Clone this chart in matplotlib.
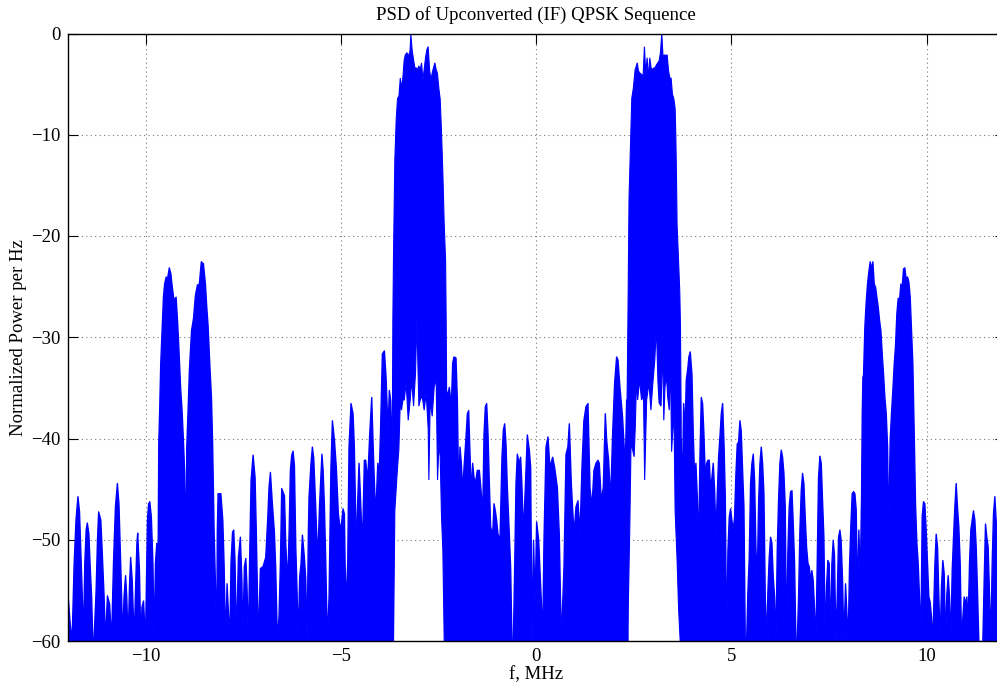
import numpy as np
import matplotlib
matplotlib.use("Agg")
import matplotlib.pyplot as plt

# ---------------- data (MHz, dB) ----------------
neg_side_f = [-12.0, -11.95, -11.90, -11.85, -11.80, -11.75, -11.71, -11.68, -11.64, -11.61,
              -11.575, -11.54, -11.51, -11.47, -11.44, -11.40, -11.37, -11.34, -11.285, -11.25,
              -11.22, -11.165, -11.13, -11.08, -11.045, -10.995, -10.94, -10.89, -10.84, -10.79,
              -10.74, -10.70, -10.65, -10.60, -10.57, -10.53, -10.50, -10.465, -10.43, -10.40,
              -10.36, -10.31, -10.28, -10.24, -10.22, -10.175, -10.14, -10.11, -10.07, -10.02,
              -9.97, -9.94, -9.91, -9.87, -9.83, -9.80, -9.765, -9.73, -9.70,
              -9.68, -9.655, -9.63, -9.595, -9.56, -9.53, -9.49, -9.46, -9.41, -9.37,
              -9.34, -9.29, -9.236, -9.20, -9.17, -9.12, -9.083, -9.05, -9.015, -9.00, -8.98,
              -8.963, -8.93, -8.895, -8.84, -8.79, -8.74, -8.69, -8.64, -8.59, -8.536,
              -8.485, -8.45, -8.417, -8.366, -8.33, -8.30, -8.263, -8.23, -8.195, -8.18,
              -8.16, -8.09, -8.04, -8.007, -7.97, -7.93, -7.86, -7.83, -7.79, -7.76,
              -7.725, -7.69, -7.64, -7.59, -7.55, -7.53, -7.486, -7.45, -7.42, -7.384,
              -7.35, -7.315, -7.264, -7.213, -7.18, -7.13, -7.076, -7.008, -6.94, -6.89,
              -6.854, -6.82, -6.77, -6.718, -6.684, -6.64, -6.60, -6.564, -6.53, -6.46,
              -6.428, -6.376, -6.34, -6.308, -6.274, -6.24, -6.205, -6.17, -6.137, -6.11,
              -6.07, -6.035, -6.00, -5.95, -5.915, -5.88, -5.847, -5.83, -5.78, -5.745,
              -5.71, -5.66, -5.61, -5.56, -5.50, -5.47, -5.437, -5.403, -5.36, -5.318,
              -5.27, -5.232, -5.18, -5.13, -5.08, -5.028, -4.994, -4.96, -4.925, -4.89,
              -4.84, -4.806, -4.755, -4.703, -4.67, -4.618, -4.584, -4.55, -4.516, -4.464,
              -4.413, -4.38, -4.327, -4.276, -4.225, -4.174, -4.123, -4.07, -4.037, -4.003,
              -3.952, -3.90, -3.858, -3.807, -3.773, -3.74, -3.704, -3.675]
neg_side_db = [-55.6, -58.2, -60, -52.6, -48.0, -45.7, -47.2, -50.7, -55.3, -60,
               -52.3, -49.0, -48.3, -49.4, -52.3, -55.6, -60, -60, -55.0, -50.0,
               -47.2, -48.0, -51.0, -55.6, -60, -55.5, -56.3, -60, -52.3, -46.7,
               -44.4, -46.4, -53.0, -60, -55.6, -53.5, -55.6, -60, -54.6, -51.7,
               -54.0, -60, -55.6, -50.3, -49.3, -53.0, -60, -56.6, -56.0, -60,
               -48.0, -46.4, -46.2, -47.7, -52.3, -60, -52.3, -50.3, -54.0,
               -40.5, -36.9, -32.6, -29.3, -26.0, -24.7, -24.0, -24.3, -23.1, -23.7,
               -24.8, -26.3, -26.0, -28.3, -30.6, -35.0, -37.2, -40.0, -43.4, -46.4, -54.3,
               -40.8, -37.3, -33.2, -29.3, -28.1, -25.8, -24.8, -24.7, -22.5, -22.7,
               -24.7, -27.0, -28.8, -33.2, -35.9, -40.5, -49.0, -54.0, -60, -49.0,
               -45.4, -45.4, -48.0, -52.3, -60, -54.3, -60, -52.3, -49.2, -49.0,
               -52.3, -60, -51.7, -49.7, -54.0, -60, -52.6, -51.8, -54.6, -60,
               -51.3, -44.1, -41.6, -43.8, -49.4, -60, -52.8, -52.6, -51.7, -48.0,
               -44.7, -43.3, -46.4, -49.2, -52.8, -60, -57.6, -52.3, -44.9, -45.6,
               -50.3, -54.3, -49.0, -43.1, -41.6, -41.2, -42.6, -50.7, -55.0, -60,
               -53.6, -52.3, -49.5, -51.7, -53.8, -60, -49.0, -45.7, -42.4, -40.8,
               -41.9, -46.7, -52.0, -46.4, -41.5, -43.1, -46.6, -52.0, -60, -55.6,
               -42.9, -38.2, -40.1, -42.9, -47.4, -49.0, -48.2, -46.9, -47.4, -56.6,
               -52.3, -40.8, -36.5, -37.5, -40.8, -51.0, -46.1, -42.4, -45.4, -50.7,
               -42.1, -42.1, -44.1, -39.5, -35.9, -42.4, -47.7, -42.4, -43.8, -39.8,
               -31.6, -31.3, -33.9, -39.1, -35.2, -36.2, -40.1, -45.0]

left_main_f_upper = [-3.685, -3.67, -3.653, -3.62, -3.585, -3.55, -3.515, -3.48, -3.45, -3.415,
                     -3.38, -3.35, -3.31, -3.26, -3.23, -3.21, -3.175, -3.14, -3.107, -3.07,
                     -3.04, -3.005, -2.97, -2.936, -2.90, -2.87, -2.834, -2.80, -2.766, -2.73,
                     -2.697, -2.663, -2.63, -2.595, -2.56, -2.53, -2.49, -2.458, -2.424, -2.39,
                     -2.356, -2.32, -2.305, -2.295]
left_main_db_upper = [-40.0, -28.0, -21.7, -12.5, -8.5, -6.4, -6.2, -4.4, -5.4, -4.4,
                      -2.6, -2.1, -1.9, -2.2, -1.7, -0.1, -1.7, -2.6, -3.4, -3.4,
                      -3.6, -3.2, -3.6, -2.9, -4.6, -3.6, -2.4, -1.6, -1.3, -3.6,
                      -4.6, -3.9, -3.4, -2.9, -3.6, -3.9, -5.5, -6.5, -9.8, -13.8,
                      -18.8, -22.4, -28.3, -34.0]
left_main_f_lower = [-3.685, -3.653, -3.62, -3.55, -3.517, -3.48, -3.45, -3.414, -3.38, -3.33,
                     -3.277, -3.226, -3.192, -3.14, -3.09, -3.056, -3.004, -2.97, -2.92, -2.868,
                     -2.817, -2.765, -2.748, -2.714, -2.663, -2.612, -2.56, -2.526, -2.49, -2.458,
                     -2.424, -2.39, -2.355, -2.295]
left_main_db_lower = [-60, -60, -47.1, -42.8, -41.1, -36.2, -37.2, -36.2, -36.2, -34.5,
                      -38.2, -36.2, -34.2, -36.8, -33.5, -28.3, -36.8, -36.2, -35.8, -37.2,
                      -35.5, -39.1, -44.1, -36.2, -37.8, -34.9, -34.2, -44.1, -40.5, -41.8,
                      -47.7, -51.0, -60, -60]

center_f = [-2.32, -2.287, -2.236, -2.185, -2.151, -2.117, -2.066, -2.031, -1.997, -1.963,
            -1.929, -1.895, -1.86, -1.809, -1.775, -1.741, -1.707, -1.673, -1.639, -1.605,
            -1.57, -1.52, -1.468, -1.417, -1.383, -1.348, -1.314, -1.28, -1.246, -1.212,
            -1.178, -1.126, -1.092, -1.058, -1.024, -0.99, -0.939, -0.888, -0.853, -0.819,
            -0.785, -0.751, -0.70, -0.666, -0.632, -0.597, -0.563, -0.529, -0.495, -0.444,
            -0.41, -0.375, -0.341, -0.29, -0.239, -0.188, -0.153, -0.12, -0.08, -0.04,
            0.0, 0.052, 0.12, 0.154, 0.188, 0.24, 0.29, 0.34, 0.41, 0.46,
            0.53, 0.58, 0.632, 0.70, 0.752, 0.80, 0.837, 0.888, 0.956, 1.008,
            1.058, 1.11, 1.161, 1.21, 1.264, 1.315, 1.366, 1.417, 1.468, 1.52,
            1.571, 1.605, 1.656, 1.707, 1.759, 1.793, 1.844, 1.895, 1.946, 1.997,
            2.049, 2.083, 2.134, 2.20, 2.27, 2.305, 2.34]
center_db = [-35.0, -35.8, -34.9, -36.8, -32.5, -31.9, -32.0, -36.2, -45.4, -40.8,
             -42.4, -45.1, -42.8, -39.8, -37.5, -37.2, -41.5, -45.4, -42.4, -43.8,
             -44.4, -43.1, -43.1, -45.4, -47.7, -39.5, -36.8, -36.5, -39.5, -44.4,
             -48.7, -49.4, -46.4, -47.1, -48.1, -49.4, -50.0, -41.8, -39.1, -38.5,
             -40.5, -44.8, -49.4, -52.7, -60, -60, -52.7, -44.4, -41.5, -42.4,
             -41.8, -44.8, -49.4, -44.8, -39.6, -41.1, -42.8, -60, -50.0, -56.0,
             -48.2, -50.0, -56.0, -60, -50.0, -40.8, -39.8, -42.8, -41.8, -42.8,
             -44.8, -49.4, -60, -52.7, -41.5, -40.8, -38.5, -44.4, -49.4, -46.7,
             -46.1, -49.4, -42.8, -38.2, -36.8, -36.5, -44.8, -46.7, -43.1, -42.4,
             -42.1, -42.4, -46.1, -44.8, -37.5, -40.1, -42.1, -46.1, -39.5, -34.5,
             -31.9, -32.2, -34.9, -37.8, -42.8, -36.2, -36.0]

right_main_f_upper = [2.33, 2.35, 2.365, 2.38, 2.42, 2.45, 2.49, 2.535, 2.59, 2.621,
                      2.655, 2.706, 2.74, 2.774, 2.808, 2.843, 2.877, 2.91, 2.945, 2.979,
                      3.013, 3.047, 3.081, 3.116, 3.15, 3.184, 3.218, 3.252, 3.286, 3.32,
                      3.355, 3.389, 3.423, 3.457, 3.491, 3.525, 3.56, 3.577, 3.594, 3.61,
                      3.645, 3.679, 3.696, 3.715]
right_main_db_upper = [-36.0, -28.8, -22.2, -16.2, -10.6, -6.4, -5.4, -3.6, -2.9, -3.7,
                       -3.9, -4.05, -4.2, -1.3, -4.0, -2.4, -4.4, -2.4, -3.4, -3.56,
                       -3.4, -3.4, -3.1, -2.9, -2.7, -1.9, 0.0, -2.4, -2.1, -2.2,
                       -2.1, -3.6, -4.4, -4.4, -6.0, -6.4, -7.4, -10.0, -13.9, -18.9,
                       -22.2, -25.5, -28.8, -38.0]
right_main_f_lower = [2.33, 2.365, 2.40, 2.43, 2.47, 2.51, 2.54, 2.57, 2.60, 2.65,
                      2.70, 2.75, 2.78, 2.83, 2.89, 2.94, 2.99, 3.04, 3.08, 3.12,
                      3.15, 3.20, 3.24, 3.27, 3.30, 3.34, 3.37, 3.41, 3.44, 3.47,
                      3.53, 3.56, 3.61, 3.65, 3.69, 3.715]
right_main_db_lower = [-60, -55.6, -48.4, -40.5, -41.1, -41.8, -38.8, -34.2, -36.2, -34.2,
                       -36.2, -35.8, -44.1, -36.2, -34.5, -37.2, -34.5, -32.2, -28.9, -34.4,
                       -36.5, -36.8, -30.9, -38.2, -34.9, -33.9, -35.9, -37.2, -32.0, -41.3,
                       -37.2, -47.1, -52.0, -56.9, -60, -60]

pos_side_f = [3.70, 3.73, 3.765, 3.80, 3.833, 3.867, 3.90, 3.935, 3.978, 4.012,
              4.046, 4.08, 4.115, 4.149, 4.183, 4.217, 4.251, 4.285, 4.32, 4.354,
              4.388, 4.422, 4.456, 4.49, 4.524, 4.559, 4.593, 4.627, 4.661, 4.695,
              4.73, 4.764, 4.80, 4.832, 4.866, 4.90, 4.934, 4.968, 5.00, 5.037,
              5.07, 5.105, 5.139, 5.173, 5.207, 5.24, 5.276, 5.31, 5.344, 5.378,
              5.412, 5.446, 5.48, 5.515, 5.549, 5.583, 5.617, 5.651, 5.685, 5.72,
              5.754, 5.788, 5.822, 5.856, 5.89, 5.924, 5.958, 5.993, 6.027, 6.06,
              6.095, 6.13, 6.163, 6.197, 6.232, 6.266, 6.30, 6.334, 6.368, 6.40,
              6.436, 6.47, 6.505, 6.54, 6.573, 6.607, 6.641, 6.675, 6.71, 6.744,
              6.778, 6.812, 6.846, 6.88, 6.915, 6.95, 6.983, 7.017, 7.05, 7.085,
              7.12, 7.153, 7.187, 7.22, 7.256, 7.29, 7.324, 7.358, 7.392, 7.426,
              7.46, 7.495, 7.53, 7.563, 7.597, 7.63, 7.665, 7.70, 7.734, 7.768,
              7.80, 7.836, 7.87, 7.913, 7.98, 8.015, 8.05, 8.084, 8.118, 8.152,
              8.186, 8.22, 8.254, 8.289, 8.323, 8.34, 8.357, 8.374, 8.408, 8.442,
              8.476, 8.51, 8.545, 8.579, 8.613, 8.647, 8.681, 8.715, 8.75, 8.784,
              8.818, 8.852, 8.886, 8.92, 8.955, 8.99, 9.006, 9.023, 9.04, 9.057,
              9.09, 9.125, 9.16, 9.193, 9.228, 9.262, 9.296, 9.33, 9.364, 9.398,
              9.432, 9.467, 9.50, 9.535, 9.569, 9.603, 9.637, 9.671, 9.705, 9.74,
              9.774, 9.808, 9.842, 9.876, 9.91, 9.944, 9.978, 10.013, 10.047, 10.08,
              10.115, 10.15, 10.20, 10.235, 10.27, 10.303, 10.337, 10.37, 10.405, 10.44,
              10.474, 10.508, 10.542, 10.576, 10.61, 10.645, 10.679, 10.713, 10.747, 10.78,
              10.815, 10.85, 10.884, 10.918, 10.952, 10.986, 11.02, 11.054, 11.088, 11.122,
              11.157, 11.19, 11.225, 11.26, 11.293, 11.327, 11.43, 11.464, 11.498, 11.532,
              11.566, 11.60, 11.635, 11.669, 11.703, 11.737, 11.77, 11.805, 11.85, 11.90,
              11.95, 12.0]
pos_side_db = [-40.0, -45.4, -36.5, -39.2, -34.2, -33.2, -31.9, -31.4, -33.6, -39.5,
               -43.8, -42.4, -45.7, -50.7, -41.8, -35.9, -36.5, -39.5, -43.8, -42.4,
               -42.1, -42.1, -45.1, -43.8, -42.4, -45.1, -49.4, -45.4, -41.8, -39.8,
               -37.5, -36.5, -40.5, -45.7, -60, -51.0, -47.7, -46.9, -48.0, -49.0,
               -47.7, -43.4, -40.5, -40.3, -38.2, -39.2, -43.1, -46.7, -60, -60,
               -55.0, -51.7, -44.4, -42.4, -41.5, -44.1, -50.7, -54.0, -46.4, -42.4,
               -40.8, -42.4, -45.4, -55.6, -60, -55.0, -51.7, -49.7, -50.3, -53.6,
               -55.6, -60, -51.0, -46.1, -42.4, -41.1, -41.8, -43.4, -46.7, -60,
               -51.0, -46.7, -45.2, -45.1, -48.4, -52.3, -60, -60, -55.6, -49.0,
               -45.1, -43.4, -44.4, -47.7, -50.7, -52.3, -52.6, -54.0, -53.0, -54.0,
               -56.9, -60, -52.3, -43.9, -41.7, -42.4, -46.1, -49.7, -60, -54.6,
               -52.0, -52.3, -60, -52.3, -50.0, -51.5, -60, -55.6, -49.7, -49.0,
               -50.0, -54.0, -60, -54.3, -60, -52.6, -48.4, -45.4, -45.2, -45.4,
               -47.0, -55.6, -49.0, -54.0, -45.7, -37.8, -33.9, -33.7, -28.9, -26.5,
               -24.7, -23.5, -22.5, -23.2, -22.5, -24.7, -25.0, -26.0, -27.0, -28.3,
               -29.3, -31.6, -33.6, -35.9, -37.5, -40.8, -46.4, -49.0, -43.8, -40.0,
               -37.5, -35.2, -32.6, -30.8, -27.6, -26.1, -26.3, -24.7, -25.0, -23.2,
               -23.1, -24.3, -24.0, -24.5, -26.0, -29.3, -32.6, -39.2, -46.4, -50.3,
               -52.3, -55.6, -60, -47.7, -46.2, -46.4, -49.0, -52.3, -55.6, -56.1,
               -57.6, -60, -52.6, -49.4, -50.7, -55.6, -60, -54.6, -52.0, -53.3,
               -60, -55.3, -53.5, -55.6, -60, -53.0, -49.7, -46.7, -44.4, -46.7,
               -48.7, -52.3, -60, -57.6, -55.6, -56.3, -55.6, -58.2, -52.3, -49.0,
               -48.0, -47.1, -48.0, -50.7, -55.0, -60, -60, -54.0, -48.4, -49.7,
               -50.7, -55.3, -60, -52.3, -47.4, -45.7, -48.0, -50.7, -53.0, -60,
               -55.0, -56.0]

title_text = "PSD of Upconverted (IF) QPSK Sequence"
x_label = "f, MHz"
y_label = "Normalized Power per Hz"
x_ticks = [-10, -5, 0, 5, 10]
y_ticks = [-60, -50, -40, -30, -20, -10, 0]

# ---------------- drawing ----------------
plt.rcParams['font.family'] = ['Liberation Serif', 'DejaVu Serif']
plt.rcParams['axes.unicode_minus'] = True

fig = plt.figure(figsize=(9.97, 6.85), dpi=100)
ax = fig.add_axes([67.7 / 997, (685 - 641) / 685, 936.9 / 997, 607.5 / 685])

blue = '#0000FF'
floor = -70
for f, d in [(neg_side_f, neg_side_db), (center_f, center_db), (pos_side_f, pos_side_db)]:
    ax.fill_between(f, floor, d, color=blue, linewidth=1.0, edgecolor=blue, zorder=2)

for fu, du, fl, dl in [(left_main_f_upper, left_main_db_upper, left_main_f_lower, left_main_db_lower),
                       (right_main_f_upper, right_main_db_upper, right_main_f_lower, right_main_db_lower)]:
    xs = np.concatenate([fu, fl[::-1]])
    ys = np.concatenate([du, dl[::-1]])
    ax.fill(xs, ys, color=blue, linewidth=0.8, edgecolor=blue, zorder=2)

ax.set_xlim(-12, 12)
ax.set_ylim(-60, 0)
ax.set_xticks(x_ticks)
ax.set_yticks(y_ticks)
ax.tick_params(direction='in', length=7, width=0.8, top=True, right=True,
               labelsize=13.5, pad=5)
ax.grid(True, linestyle=(0, (1, 3)), color='#777777', linewidth=0.8, zorder=1)
ax.set_axisbelow(True)
for s in ax.spines.values():
    s.set_linewidth(1.0)
    s.set_zorder(5)

ax.set_title(title_text, fontsize=13.5, pad=10)
ax.set_xlabel(x_label, fontsize=13.5, labelpad=1)
ax.set_ylabel(y_label, fontsize=13.5, labelpad=3)

fig.savefig("out.png", dpi=100)
